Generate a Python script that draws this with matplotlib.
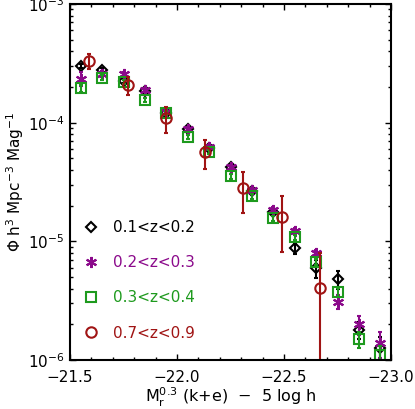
import matplotlib
matplotlib.use("Agg")
import matplotlib.pyplot as plt
from matplotlib.lines import Line2D
from matplotlib.ticker import MultipleLocator, FuncFormatter, LogLocator

# absolute magnitude bins (shared by the three low-z samples)
mag = [-21.55, -21.65, -21.75, -21.85, -21.95, -22.05, -22.15, -22.25,
       -22.35, -22.45, -22.55, -22.65, -22.75, -22.85, -22.95]

# 0.1<z<0.2
phi_z1 = [3.02e-4, 2.80e-4, 2.25e-4, 1.85e-4, 1.21e-4, 8.8e-5, 6.1e-5, 4.2e-5,
          2.66e-5, 1.77e-5, 8.73e-6, 5.93e-6, 4.79e-6, 1.79e-6, 1.26e-6]
err_z1 = [1.2e-5, 1.1e-5, 1.0e-5, 7e-6, 5e-6, 3.5e-6, 2.5e-6, 1.8e-6,
          1.3e-6, 1.0e-6, 8.5e-7, 1.0e-6, 8.4e-7, 3e-7, 3e-7]

# 0.2<z<0.3
phi_z2 = [2.35e-4, 2.57e-4, 2.55e-4, 1.88e-4, 1.24e-4, 8.86e-5, 6.28e-5, 4.21e-5,
          2.71e-5, 1.84e-5, 1.22e-5, 7.9e-6, 3.10e-6, 2.0e-6, 1.38e-6]
err_z2 = [3.2e-5, 1.5e-5, 1.2e-5, 8e-6, 5e-6, 3.5e-6, 2.5e-6, 1.8e-6,
          1.3e-6, 1.0e-6, 7e-7, 5e-7, 4e-7, 3.6e-7, 3.5e-7]

# 0.3<z<0.4
phi_z3 = [1.95e-4, 2.40e-4, 2.20e-4, 1.55e-4, 1.21e-4, 7.57e-5, 5.69e-5, 3.52e-5,
          2.41e-5, 1.56e-5, 1.08e-5, 6.73e-6, 3.72e-6, 1.49e-6, 1.10e-6]
err_z3 = [1.2e-5, 1.2e-5, 1.0e-5, 7e-6, 5e-6, 3.5e-6, 2.5e-6, 1.8e-6,
          1.2e-6, 9e-7, 6e-7, 4e-7, 3e-7, 2.3e-7, 2e-7]

# 0.7<z<0.9 (own binning)
mag_z4 = [-21.59, -21.77, -21.95, -22.13, -22.31, -22.49, -22.67]
phi_z4 = [3.31e-4, 2.07e-4, 1.09e-4, 5.61e-5, 2.80e-5, 1.60e-5, 4.02e-6]
err_z4 = [5.0e-5, 3.7e-5, 2.7e-5, 1.55e-5, 1.06e-5, 7.9e-6, 3.96e-6]

labels = ["0.1<z<0.2", "0.2<z<0.3", "0.3<z<0.4", "0.7<z<0.9"]
colors = ["black", "#8b0a8b", "#1e9a1e", "#a01414"]
markers = ["D", (6, 2, 0), "s", "o"]
msizes = [5.0, 8.0, 7.5, 7.5]

plt.rcParams["font.family"] = ["DejaVu Sans"]

fig = plt.figure(figsize=(4.15, 4.09), dpi=100)
ax = fig.add_axes([0.1687, 0.1198, 0.7735, 0.8704])

series = [(mag, phi_z1, err_z1), (mag, phi_z2, err_z2),
          (mag, phi_z3, err_z3), (mag_z4, phi_z4, err_z4)]
for (x, y, e), c, m, ms in zip(series, colors, markers, msizes):
    ax.errorbar(x, y, yerr=e, fmt="none", ecolor=c, elinewidth=1.5,
                capsize=1.5, capthick=1.5)
    ax.plot(x, y, linestyle="none", marker=m, ms=ms, mfc="none",
            mec=c, mew=1.5)

ax.set_yscale("log")
ax.set_xlim(-21.5, -23.0)
ax.set_ylim(1e-6, 1e-3)

ax.xaxis.set_major_locator(MultipleLocator(0.5))
ax.xaxis.set_minor_locator(MultipleLocator(0.1))
ax.xaxis.set_major_formatter(FuncFormatter(lambda v, p: f"{v:.1f}".replace("-", "\u2212")))
ax.yaxis.set_major_locator(LogLocator(base=10))
ax.yaxis.set_minor_locator(LogLocator(base=10, subs=range(2, 10)))

ax.tick_params(which="both", direction="in", top=True, right=True, width=1.0,
               labelsize=11)
ax.tick_params(which="major", length=4.5)
ax.tick_params(which="minor", length=2.5)
ax.tick_params(axis="x", pad=7)
ax.tick_params(axis="y", pad=4)
for s in ax.spines.values():
    s.set_linewidth(1.5)

ax.set_xlabel(r"M$_\mathregular{r}^\mathregular{0.3}$ (k+e)  $-$  5 log h", fontsize=11.5,
              labelpad=1)
ax.set_ylabel(r"$\mathregular{\Phi}$ h$^\mathregular{3}$ Mpc$^\mathregular{-3}$ Mag$^\mathregular{-1}$",
              fontsize=11, labelpad=1)

handles = [Line2D([], [], linestyle="none", marker=m, ms=ms, mfc="none", mec=c, mew=1.5)
           for m, ms, c in zip(markers, msizes, colors)]
leg = ax.legend(handles, labels, loc="lower left", bbox_to_anchor=(0.0, 0.016),
                frameon=False, fontsize=11, handlelength=1.0, handletextpad=0.9,
                labelspacing=1.32, labelcolor=colors)

fig.savefig("out.png", dpi=100)
